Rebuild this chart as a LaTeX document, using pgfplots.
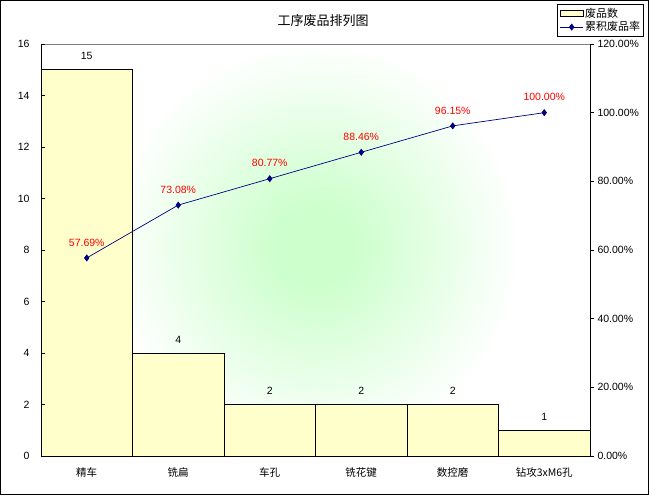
\documentclass[border=0pt]{standalone}
\usepackage{pgfplots}
\pgfplotsset{compat=1.18}
\usepackage{fontspec}
\setmainfont{Liberation Sans}
\newfontfamily\cjk{Noto Sans CJK SC}
\definecolor{barfill}{RGB}{255,255,204}
\definecolor{gcenter}{RGB}{204,255,204}
\definecolor{linecol}{RGB}{0,0,128}
\pgfdeclareradialshading{plotgrad}{\pgfpoint{0bp}{0bp}}{color(0bp)=(gcenter); color(4.5bp)=(gcenter); color(25bp)=(white); color(50bp)=(white)}
\pgfplotsset{
  boxlegend/.style={legend image code/.code={\draw[##1] (0pt,-3pt) rectangle (23pt,3pt);}},
  linelegend/.style={legend image code/.code={\draw[mark repeat=2,mark phase=2,##1] plot coordinates {(0pt,0pt) (11.5pt,0pt) (23pt,0pt)};}},
}
\begin{document}
\begin{tikzpicture}
\useasboundingbox (0,0) rectangle (649pt,495pt);
\draw[black, line width=1pt] (0.5pt,0.5pt) rectangle (648.5pt,494.5pt);
\begin{axis}[
  at={(41pt,39pt)}, anchor=south west,
  scale only axis, width=549pt, height=412pt,
  xmin=-0.5, xmax=5.5, ymin=0, ymax=16,
  axis x line*=bottom, axis y line*=left,
  axis line style={-, black, line width=0.8pt},
  axis on top=true,
  ytick={0,2,...,16},
  xtick={0,...,5},
  xticklabels={精车,铣扁,车孔,铣花键,数控磨,钻攻3xM6孔},
  xticklabel style={font=\cjk\fontsize{10.5}{12}\selectfont, yshift=-4pt},
  x tick style={draw=none},
  y tick style={black, line width=0.8pt},
  tick align=inside, major tick length=4pt,
  /pgf/number format/assume math mode=true,
  yticklabel style={font=\fontsize{10.5}{12}\selectfont, xshift=-8pt},
  title={工序废品排列图},
  title style={at={(0.5137,1.0413)}, anchor=center, font=\cjk\fontsize{13}{15}\selectfont},
  ybar, bar width=1, bar shift=0pt,
  nodes near coords,
  every node near coord/.append style={font=\fontsize{10.5}{12}\selectfont, black, yshift=6pt},
  clip=false,
]
\begin{scope}
  \clip (rel axis cs:0,0) rectangle (rel axis cs:1,1);
  \shade[shading=plotgrad] (rel axis cs:0.5,0.508) circle (205pt);
\end{scope}
\addplot[fill=barfill, draw=black, line width=0.8pt] coordinates {(0,15) (1,4) (2,2) (3,2) (4,2) (5,1)};
\draw[gray, line width=0.8pt] (rel axis cs:0,1) -- (rel axis cs:1,1);
\end{axis}
\begin{axis}[
  at={(41pt,39pt)}, anchor=south west,
  scale only axis, width=549pt, height=412pt,
  xmin=-0.5, xmax=5.5, ymin=0, ymax=120,
  axis x line=none, axis y line*=right,
  axis line style={-, black, line width=0.8pt},
  ytick={0,20,...,120},
  yticklabel={\pgfmathprintnumber[fixed,fixed zerofill,precision=2]{\tick}\%},
  tick align=outside, major tick length=4pt,
  y tick style={black, line width=0.8pt},
  /pgf/number format/assume math mode=true,
  yticklabel style={font=\fontsize{10.5}{12}\selectfont},
  legend style={at={(1.0984,1.0971)}, anchor=north east, draw=black, line width=0.8pt,
    font=\cjk\fontsize{11}{13}\selectfont, inner xsep=2pt, inner ysep=2pt, row sep=0pt,
    nodes={inner xsep=1.5pt, inner ysep=1.5pt},
    legend cell align=left},
  clip=false,
]
\addlegendimage{fill=barfill, draw=black, line width=0.8pt, boxlegend}
\addlegendentry{废品数}
\addplot[linecol, line width=0.7pt, mark=diamond*, mark size=3pt,
  mark options={fill=linecol, draw=linecol}, linelegend,
  nodes near coords={\pgfmathprintnumber[fixed,fixed zerofill,precision=2]{\pgfplotspointmeta}\%},
  every node near coord/.style={red, font=\fontsize{10.5}{12}\selectfont, anchor=south, yshift=8pt}]
  coordinates {(0,57.69) (1,73.08) (2,80.77) (3,88.46) (4,96.15) (5,100)};
\addlegendentry{累积废品率}
\end{axis}
\end{tikzpicture}
\end{document}
